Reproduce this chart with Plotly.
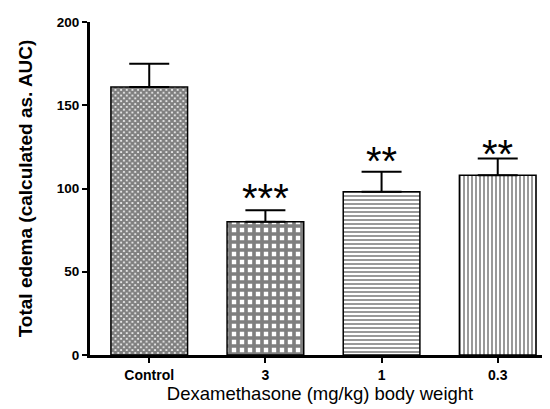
import plotly.graph_objects as go

categories = ["Control", "3", "1", "0.3"]
means = [161, 80, 98, 108]
sem = [14, 7, 12, 10]
stars = ["", "***", "**", "**"]
y_ticks = [0, 50, 100, 150, 200]

patterns = ["x", "+", "-", "|"]
psizes = [4, 8, 4, 4]
psolid = [0.8, 0.7, 0.4, 0.4]
star_shift = [0, -12, -13, -19]

FONT = "Liberation Sans, Arial"

fig = go.Figure()
for i, c in enumerate(categories):
    fig.add_trace(go.Bar(
        x=[i], y=[means[i]], width=0.66,
        marker=dict(color="white", line=dict(color="black", width=1.5),
                    pattern=dict(shape=patterns[i], size=psizes[i], solidity=psolid[i],
                                 fgcolor="black", bgcolor="white", fillmode="overlay")),
        error_y=dict(type="data", array=[sem[i]], arrayminus=[0], symmetric=False,
                     color="black", thickness=2, width=20),
        showlegend=False,
    ))
    if stars[i]:
        fig.add_annotation(x=i, y=means[i] + sem[i], text=stars[i], showarrow=False,
                           yanchor="bottom", yshift=star_shift[i],
                           font=dict(family=FONT, size=40, color="black"))

fig.update_layout(
    width=550, height=409,
    margin=dict(l=82, r=8, t=14, b=62),
    paper_bgcolor="white", plot_bgcolor="white",
    font=dict(family=FONT, color="black"),
)
fig.update_xaxes(
    range=[-0.51, 3.45], tickvals=list(range(len(categories))), ticktext=categories,
    showline=True, linecolor="black", linewidth=3, ticks="outside", ticklen=5, tickwidth=2,
    tickcolor="black", showgrid=False, zeroline=False,
    tickfont=dict(family=FONT, size=14, color="black", weight="bold"),
    title=dict(text="Dexamethasone (mg/kg) body weight", standoff=5,
               font=dict(family=FONT, size=18.5, color="black")),
)
fig.update_yaxes(
    range=[0, 200], tickvals=y_ticks, showline=True, linecolor="black", linewidth=3,
    ticks="outside", ticklen=5, tickwidth=2, tickcolor="black", showgrid=False, zeroline=False,
    tickfont=dict(family=FONT, size=13.5, color="black", weight="bold"),
    title=dict(text="Total edema (calculated as. AUC)", standoff=20,
               font=dict(family=FONT, size=19, color="black", weight="bold")),
)
fig.write_html("out.html")
